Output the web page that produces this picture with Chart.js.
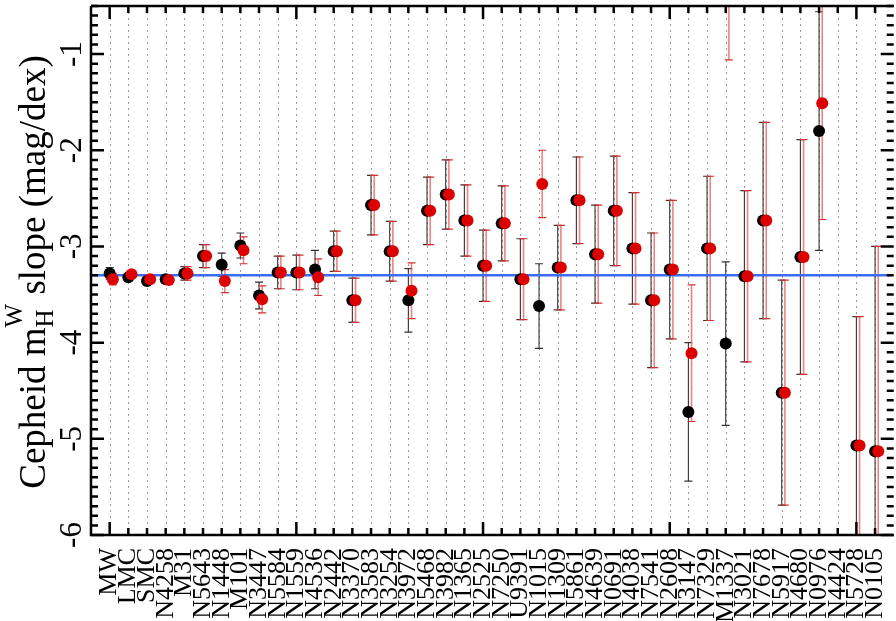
<!DOCTYPE html>
<html lang="en">
<head>
    <meta charset="UTF-8">
    <title>Cepheid slopes per host</title>
    <script src="https://cdn.jsdelivr.net/npm/chart.js"></script>
    <style>
        body {
            margin: 0;
            padding: 0;
            background-color: #ffffff;
        }

        .chart-container {
            position: relative;
            width: 896px;
            height: 621px;
        }
    </style>
</head>
<body>
    <div class="chart-container">
        <canvas id="slopeCanvas"></canvas>
    </div>

    <script>
        // Hosts along the x axis
        const hosts = ['MW', 'LMC', 'SMC', 'N4258', 'M31', 'N5643', 'N1448', 'M101', 'N3447', 'N5584',
            'N1559', 'N4536', 'N2442', 'N3370', 'N3583', 'N3254', 'N3972', 'N5468', 'N3982', 'N1365',
            'N2525', 'N7250', 'U9391', 'N1015', 'N1309', 'N5861', 'N4639', 'N0691', 'N4038', 'N7541',
            'N2608', 'N3147', 'N7329', 'M1337', 'N3021', 'N7678', 'N5917', 'N4680', 'N0976', 'N4424',
            'N5728', 'N0105'];

        // Black series: slope and its error
        const slopeBlack = [-3.28, -3.32, -3.36, -3.34, -3.28, -3.10, -3.19, -2.99, -3.51, -3.27,
            -3.27, -3.24, -3.05, -3.56, -2.57, -3.05, -3.56, -2.63, -2.46, -2.73,
            -3.20, -2.76, -3.34, -3.62, -3.22, -2.52, -3.08, -2.63, -3.02, -3.56,
            -3.24, -4.72, -3.02, -4.01, -3.31, -2.73, -4.52, -3.11, -1.80, null,
            -5.07, -5.13];
        const errBlack = [0.06, 0.03, 0.04, 0.04, 0.07, 0.12, 0.12, 0.13, 0.14, 0.17,
            0.18, 0.20, 0.21, 0.23, 0.31, 0.31, 0.33, 0.35, 0.36, 0.37,
            0.37, 0.39, 0.42, 0.44, 0.44, 0.45, 0.51, 0.57, 0.58, 0.70,
            0.72, 0.72, 0.75, 0.85, 0.89, 1.02, 1.17, 1.22, 1.24, null,
            1.34, 2.13];

        // Red series: slope and its error
        const slopeRed = [-3.34, -3.29, -3.34, -3.35, -3.28, -3.10, -3.36, -3.04, -3.55, -3.27,
            -3.27, -3.32, -3.05, -3.56, -2.57, -3.05, -3.46, -2.63, -2.46, -2.73,
            -3.20, -2.76, -3.34, -2.35, -3.22, -2.52, -3.08, -2.63, -3.02, -3.56,
            -3.24, -4.11, -3.02, -0.20, -3.31, -2.73, -4.52, -3.11, -1.51, null,
            -5.07, -5.13];
        const errRed = [0.06, 0.03, 0.04, 0.04, 0.07, 0.12, 0.12, 0.14, 0.14, 0.17,
            0.18, 0.19, 0.21, 0.23, 0.31, 0.31, 0.29, 0.35, 0.36, 0.37,
            0.37, 0.39, 0.42, 0.35, 0.44, 0.45, 0.51, 0.57, 0.58, 0.70,
            0.72, 0.71, 0.75, 0.86, 0.89, 1.02, 1.17, 1.22, 1.21, null,
            1.34, 2.13];

        const yTicks = [-6, -5, -4, -3, -2, -1];
        const meanSlope = -3.3;

        const redShift = 0.17; // red markers sit a little right of each host line

        function toPoints(values, errors, shift) {
            return values.map((v, i) => ({ x: i + shift, y: v, err: errors[i] }));
        }

        // Grid lines, error bars and the reference line, under the markers
        const underLayer = {
            id: 'underLayer',
            beforeDatasetsDraw(chart) {
                const { ctx, chartArea: a, scales: { x, y } } = chart;
                ctx.save();

                // dotted vertical lines at every host
                ctx.strokeStyle = '#9a9a9a';
                ctx.lineWidth = 1;
                ctx.setLineDash([2, 4]);
                hosts.forEach((_, i) => {
                    const px = Math.round(x.getPixelForValue(i)) + 0.5;
                    ctx.beginPath();
                    ctx.moveTo(px, a.top);
                    ctx.lineTo(px, a.bottom);
                    ctx.stroke();
                });
                ctx.setLineDash([]);

                ctx.beginPath();
                ctx.rect(a.left, a.top, a.right - a.left, a.bottom - a.top);
                ctx.clip();

                // error bars: black first, red over it
                [1, 0].forEach(k => {
                    const ds = chart.data.datasets[k];
                    ds.data.forEach(p => {
                        if (p.y == null || p.err == null) return;
                        const px = x.getPixelForValue(p.x);
                        const top = y.getPixelForValue(p.y + p.err);
                        const bot = y.getPixelForValue(p.y - p.err);
                        ctx.strokeStyle = ds.barColor;
                        ctx.lineWidth = ds.barWidth;
                        ctx.beginPath();
                        ctx.moveTo(px, top);
                        ctx.lineTo(px, bot);
                        ctx.stroke();
                        ctx.strokeStyle = ds.capColor;
                        ctx.lineWidth = 1.2;
                        ctx.beginPath();
                        ctx.moveTo(px - 4, top);
                        ctx.lineTo(px + 4, top);
                        ctx.moveTo(px - 4, bot);
                        ctx.lineTo(px + 4, bot);
                        ctx.stroke();
                    });
                });

                // reference slope
                const py = y.getPixelForValue(meanSlope);
                ctx.strokeStyle = '#3a6cf4';
                ctx.lineWidth = 2.5;
                ctx.beginPath();
                ctx.moveTo(a.left, py);
                ctx.lineTo(a.right, py);
                ctx.stroke();

                ctx.restore();
            },

            // frame, inward ticks, y labels and axis title
            afterDatasetsDraw(chart) {
                const { ctx, chartArea: a, scales: { x, y } } = chart;
                const rightEdge = x.getPixelForValue(42);
                ctx.save();
                ctx.strokeStyle = '#000';
                ctx.lineWidth = 2.5;
                ctx.beginPath();
                ctx.moveTo(a.left, a.top);
                ctx.lineTo(a.left, a.bottom);
                ctx.lineTo(rightEdge, a.bottom);
                ctx.moveTo(a.left, a.top);
                ctx.lineTo(rightEdge, a.top);
                ctx.stroke();

                // y ticks every 0.1, long ones at integers
                ctx.beginPath();
                for (let k = -60; k <= -5; k++) {
                    const py = y.getPixelForValue(k / 10);
                    const len = k % 10 === 0 ? 13 : 7;
                    ctx.moveTo(a.left, py);
                    ctx.lineTo(a.left + len, py);
                    ctx.moveTo(rightEdge, py);
                    ctx.lineTo(rightEdge - len, py);
                }
                // x ticks at every host, long ones every tenth
                hosts.forEach((_, i) => {
                    const px = x.getPixelForValue(i);
                    const len = i % 10 === 0 ? 13 : 7;
                    ctx.moveTo(px, a.bottom);
                    ctx.lineTo(px, a.bottom - len);
                    ctx.moveTo(px, a.top);
                    ctx.lineTo(px, a.top + len);
                });
                ctx.stroke();

                // rotated y tick labels
                ctx.fillStyle = '#000';
                ctx.font = '31px "Liberation Serif"';
                ctx.textAlign = 'center';
                ctx.textBaseline = 'middle';
                yTicks.forEach(v => {
                    ctx.save();
                    ctx.translate(73, y.getPixelForValue(v));
                    ctx.rotate(-Math.PI / 2);
                    ctx.fillText(String(v), 0, 0);
                    ctx.restore();
                });

                // axis title with sub/superscript
                const big = '37px "Liberation Serif"';
                const small = '25px "Liberation Serif"';
                const partA = 'Cepheid m';
                const partB = ' slope (mag/dex)';
                ctx.font = big;
                const wA = ctx.measureText(partA).width;
                const wB = ctx.measureText(partB).width;
                ctx.font = small;
                const wS = Math.max(ctx.measureText('H').width, ctx.measureText('W').width);
                const total = wA + wS + wB;
                ctx.save();
                ctx.translate(45, 272);
                ctx.rotate(-Math.PI / 2);
                ctx.textAlign = 'left';
                ctx.textBaseline = 'alphabetic';
                let cx = -total / 2;
                ctx.font = big;
                ctx.fillText(partA, cx, 0);
                cx += wA;
                ctx.font = small;
                ctx.fillText('H', cx, 8);
                ctx.fillText('W', cx, -23);
                cx += wS;
                ctx.font = big;
                ctx.fillText(partB, cx, 0);
                ctx.restore();

                ctx.restore();
            }
        };

        const ctx = document.getElementById('slopeCanvas').getContext('2d');
        new Chart(ctx, {
            type: 'scatter',
            data: {
                datasets: [
                    {
                        label: 'red',
                        data: toPoints(slopeRed, errRed, redShift),
                        backgroundColor: '#dd0000',
                        borderWidth: 0,
                        pointRadius: 6,
                        barColor: 'rgba(232, 90, 90, 0.75)',
                        capColor: '#d83030',
                        barWidth: 1.6,
                        order: 1
                    },
                    {
                        label: 'black',
                        data: toPoints(slopeBlack, errBlack, 0),
                        backgroundColor: '#000000',
                        borderWidth: 0,
                        pointRadius: 6,
                        barColor: '#333333',
                        capColor: '#333333',
                        barWidth: 1.1,
                        order: 2
                    }
                ]
            },
            options: {
                responsive: true,
                maintainAspectRatio: false,
                animation: false,
                events: [],
                layout: { padding: { top: 1, right: 0, left: 0, bottom: 0 } },
                plugins: {
                    legend: { display: false },
                    tooltip: { enabled: false }
                },
                scales: {
                    x: {
                        type: 'linear',
                        min: -1,
                        max: 41.8,
                        grid: { display: false },
                        border: { display: false },
                        afterBuildTicks: s => { s.ticks = hosts.map((_, i) => ({ value: i })); },
                        afterFit: s => {
                            s.height = 86;
                            s.paddingLeft = 0;
                            s.paddingRight = 0;
                        },
                        ticks: {
                            autoSkip: false,
                            minRotation: 90,
                            maxRotation: 90,
                            padding: 5,
                            color: '#000',
                            font: { family: 'Liberation Serif', size: 26 },
                            callback: v => hosts[v] ?? ''
                        }
                    },
                    y: {
                        min: -6,
                        max: -0.5,
                        grid: { display: false },
                        border: { display: false },
                        afterFit: s => {
                            s.width = 91;
                            s.paddingTop = 0;
                            s.paddingBottom = 0;
                        },
                        ticks: { display: false }
                    }
                }
            },
            plugins: [underLayer]
        });
    </script>
</body>
</html>
